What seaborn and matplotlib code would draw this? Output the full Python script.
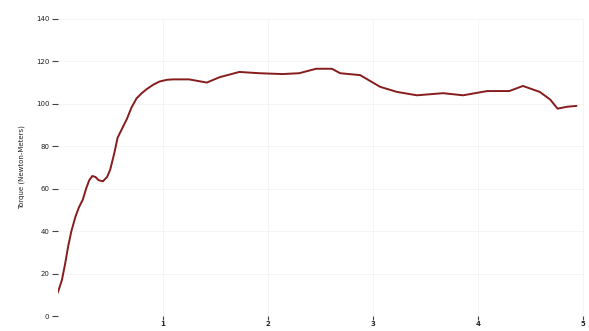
import matplotlib
matplotlib.use("Agg")
import matplotlib.pyplot as plt
import seaborn as sns
import pandas as pd

x_vals = [0.00, 0.04, 0.07, 0.10, 0.13, 0.17, 0.20, 0.24, 0.27, 0.30, 0.33, 0.36, 0.39, 0.43, 0.47, 0.50,
          0.54, 0.57, 0.62, 0.66, 0.70, 0.75, 0.80, 0.85, 0.91, 0.97,
          1.04, 1.10, 1.25, 1.42, 1.54, 1.73, 1.92, 2.14, 2.30, 2.46, 2.61, 2.69, 2.88, 3.07, 3.23,
          3.42, 3.67, 3.86, 4.09, 4.30, 4.43, 4.59, 4.69, 4.76, 4.85, 4.94]
torque = [11.0, 17.0, 24.5, 33.0, 40.0, 47.0, 51.0, 55.0, 60.0, 64.0, 66.0, 65.5, 64.0, 63.5, 65.5, 69.0,
          77.0, 84.0, 89.0, 93.0, 98.0, 102.5, 105.0, 107.0, 109.0, 110.5,
          111.3, 111.5, 111.5, 110.0, 112.5, 115.0, 114.4, 114.0, 114.4, 116.5, 116.5, 114.4, 113.5, 108.0, 105.6,
          104.0, 105.0, 104.0, 106.0, 106.0, 108.4, 105.6, 102.0, 97.7, 98.6, 99.0]
x_ticks = [1, 2, 3, 4, 5]
x_tick_labels = ["1", "2", "3", "4", "5"]
y_ticks = [0, 20, 40, 60, 80, 100, 120, 140]

df = pd.DataFrame({"x": x_vals, "torque": torque})

sns.set_theme(style="white")
fig = plt.figure(figsize=(5.89, 3.31), dpi=100)
ax = fig.add_axes([0.098, 0.045, 0.895, 0.898])
sns.lineplot(data=df, x="x", y="torque", ax=ax, color="#861c1c", linewidth=1.4)
ax.set_xlim(0, 5.02)
ax.set_ylim(0, 140)
ax.set_xticks(x_ticks)
ax.set_xticklabels(x_tick_labels, fontsize=5, fontweight="bold")
ax.set_yticks(y_ticks)
ax.set_yticklabels([str(v) for v in y_ticks], fontsize=5, color="#222222")
ax.tick_params(axis="y", length=4, width=0.8, color="#444444", pad=2, left=True)
ax.tick_params(axis="x", length=3, width=0.8, color="#444444", pad=0.5, bottom=True)
ax.set_xlabel("")
ax.set_ylabel("Torque (Newton-Meters)", fontsize=5, color="#222222", labelpad=8)
for s in ax.spines.values():
    s.set_visible(False)
ax.grid(True, color="#f4f4f4", linewidth=0.6)
fig.savefig("out.png", dpi=100)
